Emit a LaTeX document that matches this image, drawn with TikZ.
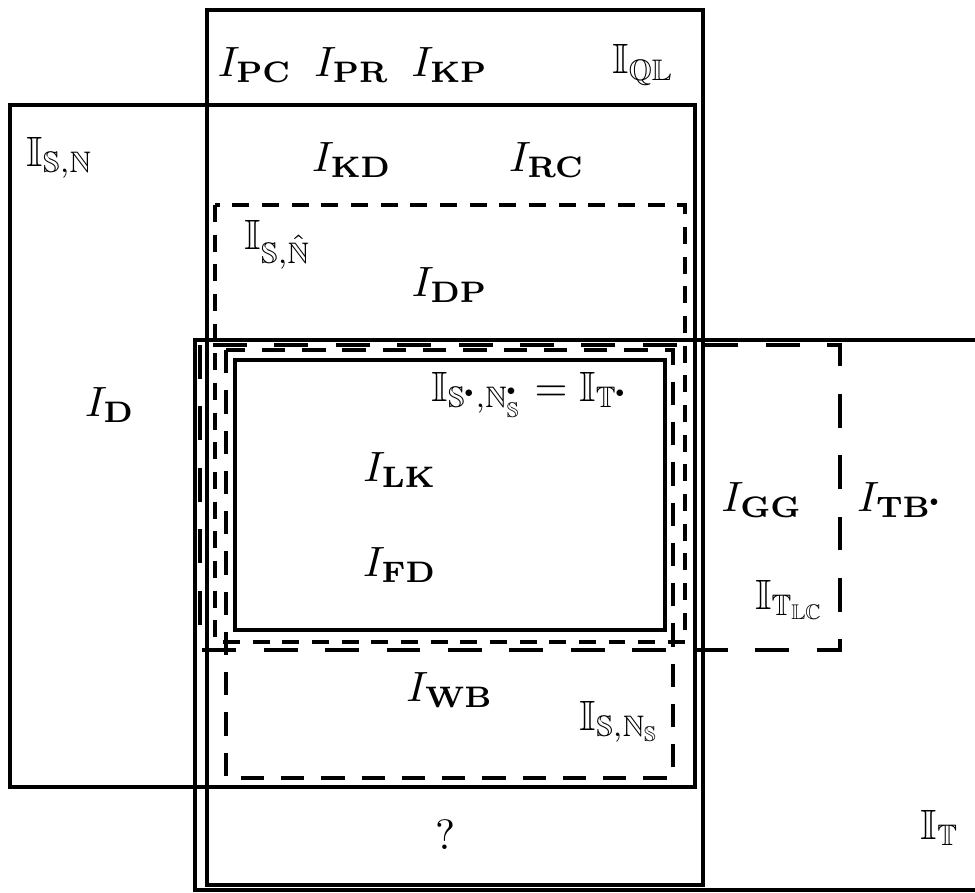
\documentclass[tikz,border=0pt]{standalone}
\usepackage{amsmath,amssymb}
\newcommand{\dsl}[1]{\mathbb{#1}}
\newcommand{\sdot}{\raisebox{0.4pt}{\scalebox{0.4}{$\bullet$}}}
\begin{document}
\begin{tikzpicture}[x=0.236pt,y=-0.236pt,
  solidbox/.style={line width=0.85pt},
  dshort/.style={line width=0.85pt,dash pattern=on 4pt off 3pt},
  dmid/.style={line width=0.85pt,dash pattern=on 5.5pt off 4pt},
  dlong/.style={line width=0.85pt,dash pattern=on 8pt off 6.5pt},
  lbl/.style={inner sep=0pt}]
\clip (0,0) rectangle (975,892);
% boxes
\draw[solidbox] (207,10) rectangle (703,885);   % I_QL
\draw[solidbox] (10,105) rectangle (695,787);   % I_S,N
\draw[solidbox] (195,340) rectangle (1000,890); % I_T
\draw[dshort] (215,205) rectangle (685,642);    % I_S,N^
\draw[dlong] (200,345) rectangle (840,650);     % I_T_LC
\draw[dmid] (226,350) rectangle (673,778);      % I_S,N_S
\draw[solidbox] (235,360) rectangle (665,630);  % I_S*,N_S*
% labels
\node[lbl] (pc) at (255,65) {$I_{\mathbf{PC}}$};
\node[lbl] (pr) at (352,65) {$I_{\mathbf{PR}}$};
\node[lbl] (kp) at (450,65) {$I_{\mathbf{KP}}$};
\node[lbl] (ql) at (643,65) {$\dsl{I}_{\dsl{Q}\dsl{L}}$};
\node[lbl] (sn) at (60,158) {$\dsl{I}_{\dsl{S},\dsl{N}}$};
\node[lbl] (kd) at (352,160) {$I_{\mathbf{KD}}$};
\node[lbl] (rc) at (547,160) {$I_{\mathbf{RC}}$};
\node[lbl] (snh) at (278,245) {$\dsl{I}_{\dsl{S},\hat{\dsl{N}}}$};
\node[lbl] (dp) at (450,285) {$I_{\mathbf{DP}}$};
\node[lbl] (d) at (110,405) {$I_{\mathbf{D}}$};
\node[lbl] (ts) at (530,395) {$\dsl{I}_{\dsl{S}^{\sdot},\dsl{N}^{\sdot}_{\dsl{S}}}=\dsl{I}_{\dsl{T}^{\sdot}}$};
\node[lbl] (lk) at (400,470) {$I_{\mathbf{LK}}$};
\node[lbl] (fd) at (400,565) {$I_{\mathbf{FD}}$};
\node[lbl] (gg) at (762,500) {$I_{\mathbf{GG}}$};
\node[lbl] (tb) at (900,500) {$I_{\mathbf{TB}^{\sdot}}$};
\node[lbl] (tlc) at (790,600) {$\dsl{I}_{\dsl{T}_{\dsl{L}\dsl{C}}}$};
\node[lbl] (wb) at (450,690) {$I_{\mathbf{WB}}$};
\node[lbl] (sns) at (620,722) {$\dsl{I}_{\dsl{S},\dsl{N}_{\dsl{S}}}$};
\node[lbl] (q) at (445,835) {?};
\node[lbl] (t) at (940,828) {$\dsl{I}_{\dsl{T}}$};
\end{tikzpicture}
\end{document}
